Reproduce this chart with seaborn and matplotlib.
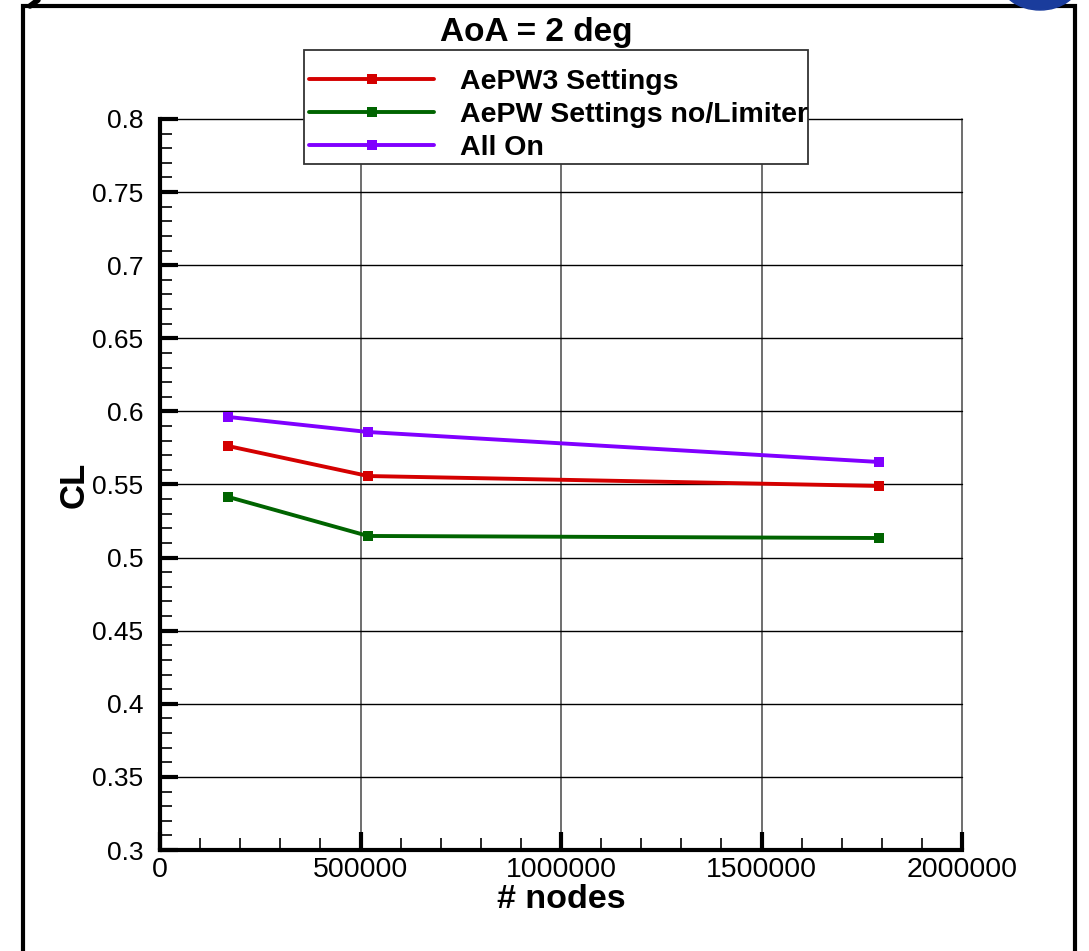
import matplotlib
matplotlib.use("Agg")
import matplotlib.pyplot as plt
import matplotlib.patches as mpatches
from matplotlib.ticker import MultipleLocator
import seaborn as sns
import pandas as pd

nodes = [170000, 519000, 1793000]
aepw3 = [0.5763, 0.5558, 0.5490]
aepw_nolim = [0.5415, 0.5148, 0.5134]
all_on = [0.5962, 0.5859, 0.5654]
series_names = ["AePW3 Settings", "AePW Settings no/Limiter", "All On"]
colors = ["#d40000", "#006400", "#8000ff"]
x_ticks = [0, 500000, 1000000, 1500000, 2000000]
y_ticks = [0.3, 0.35, 0.4, 0.45, 0.5, 0.55, 0.6, 0.65, 0.7, 0.75, 0.8]
y_tick_labels = ["0.3", "0.35", "0.4", "0.45", "0.5", "0.55", "0.6", "0.65", "0.7", "0.75", "0.8"]

df = pd.DataFrame({
    "nodes": nodes * 3,
    "CL": aepw3 + aepw_nolim + all_on,
    "series": [series_names[0]] * 3 + [series_names[1]] * 3 + [series_names[2]] * 3,
})

sns.set_style("white")
plt.rcParams["font.family"] = ["Liberation Sans", "DejaVu Sans"]
plt.rcParams["text.color"] = "black"
plt.rcParams["axes.labelcolor"] = "black"

fig = plt.figure(figsize=(10.89, 9.51), dpi=100)
ax = fig.add_axes([160/1089, 1-850/951, (962-160)/1089, (850-119)/951])

sns.lineplot(data=df, x="nodes", y="CL", hue="series", style="series",
             palette=dict(zip(series_names, colors)), markers=["s", "s", "s"],
             dashes=False, linewidth=2.8, markersize=7, markeredgewidth=0,
             ax=ax, legend=False, zorder=5, clip_on=False)

ax.set_xlim(0, 2000000)
ax.set_ylim(0.3, 0.8)
ax.set_xticks(x_ticks)
ax.set_xticklabels([str(v) for v in x_ticks])
ax.set_yticks(y_ticks)
ax.set_yticklabels(y_tick_labels)
ax.xaxis.set_minor_locator(MultipleLocator(100000))
ax.yaxis.set_minor_locator(MultipleLocator(0.01))

ax.tick_params(axis="both", which="both", bottom=True, left=True, top=False, right=False)
ax.tick_params(axis="both", which="major", direction="in", length=13, width=3,
               colors="black", labelcolor="black")
ax.tick_params(axis="both", which="minor", direction="in", length=8.5, width=1.2,
               colors="black")
ax.tick_params(axis="x", which="major", pad=5, labelsize=20.5)
ax.tick_params(axis="y", which="major", pad=12, labelsize=19)

ax.grid(True, which="major", axis="x", color="#555555", linewidth=1.2)
ax.grid(True, which="major", axis="y", color="black", linewidth=1.0)
ax.set_axisbelow(True)
for gl in ax.get_xgridlines() + ax.get_ygridlines():
    gl.set_clip_on(False)

ax.spines["top"].set_visible(False)
ax.spines["right"].set_visible(False)
ax.spines["left"].set_linewidth(3)
ax.spines["bottom"].set_linewidth(3)
ax.spines["left"].set_color("black")
ax.spines["bottom"].set_color("black")

ax.set_xlabel("# nodes", fontsize=24.5, fontweight="bold", labelpad=1, color="black")
ax.set_ylabel("CL", fontsize=25, fontweight="bold", color="black")
ax.yaxis.set_label_coords(-0.086, 0.5)

fig.text(536/1089, 1-32/951, "AoA = 2 deg", ha="center", va="center",
         fontsize=24, fontweight="bold", color="black")

# legend frame drawn as a figure rectangle
fig.patches.append(mpatches.Rectangle((304/1089, 1-164/951), (808-304)/1089, (164-50)/951,
                                      transform=fig.transFigure, facecolor="white",
                                      edgecolor="#333333", linewidth=1.3, zorder=9))
handles = [plt.Line2D([0, 0.5, 1], [0, 0, 0], color=c, linewidth=2.8, marker="s",
                      markersize=7, markeredgewidth=0, markevery=[1]) for c in colors]
leg = fig.legend(handles, series_names, loc="upper left",
                 bbox_to_anchor=(309/1089, 1-69/951), bbox_transform=fig.transFigure,
                 prop={"size": 20.5, "weight": "bold"}, frameon=False,
                 handlelength=4.4, handletextpad=0.9, labelspacing=0.25,
                 borderpad=0, borderaxespad=0)
leg.set_zorder(10)
for t in leg.get_texts():
    t.set_color("black")

# figure frame border
fig.patches.append(mpatches.Rectangle((23/1089, -0.05), (1075-23)/1089, 1.05 - 6/951,
                                      transform=fig.transFigure, fill=False,
                                      edgecolor="black", linewidth=3, zorder=0))
fig.lines.append(plt.Line2D([30/1089, 38/1089], [1-6/951, 1.0], transform=fig.transFigure,
                            color="black", linewidth=4))
fig.patches.append(mpatches.Ellipse((1040/1089, 1+20/951), 80/1089, 60/951,
                                    transform=fig.transFigure, color="#1a3c9c",
                                    zorder=0))

fig.savefig("out.png", dpi=100)
